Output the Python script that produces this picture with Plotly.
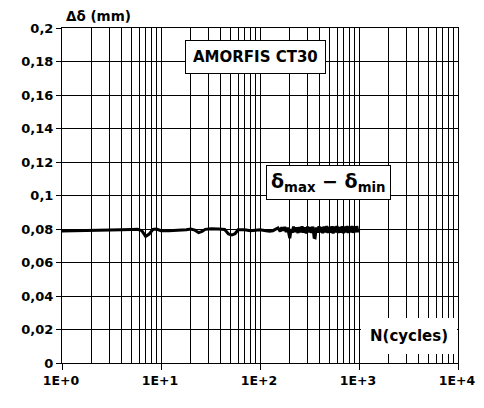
import plotly.graph_objects as go

# ---- data ----
cycles = [1, 1.5, 2, 3, 4, 5, 5.8, 6.4, 7, 7.6, 8.3, 9, 10, 12, 15, 18, 20, 22, 24,
          26, 28, 32, 38, 44, 48, 52, 56, 60, 70, 80, 90, 100, 115, 125, 135, 145,
          152, 160, 166, 172, 178, 184, 190, 196, 200, 206, 212, 218, 226, 234,
          242, 250, 258, 266, 275, 284, 293, 302, 312, 322, 332, 342, 352, 360,
          370, 382, 394, 406, 418, 430, 444, 458, 472, 486, 500, 516, 532, 548,
          565, 582, 600, 618, 636, 655, 675, 695, 715, 736, 758, 780, 803, 826,
          850, 875, 900, 925, 950, 975, 1000]
delta = [0.0788, 0.0789, 0.0790, 0.0793, 0.0795, 0.0797, 0.0798, 0.0790, 0.0756,
         0.0770, 0.0798, 0.0800, 0.0790, 0.0789, 0.0790, 0.0795, 0.0800, 0.0793,
         0.0778, 0.0785, 0.0798, 0.0801, 0.0800, 0.0797, 0.0770, 0.0764, 0.0772,
         0.0795, 0.0796, 0.0790, 0.0793, 0.0795, 0.0790, 0.0787, 0.0790, 0.0800,
         0.0806, 0.0786, 0.0810, 0.0790, 0.0812, 0.0782, 0.0808, 0.0770, 0.0745,
         0.0800, 0.0778, 0.0814, 0.0782, 0.0810, 0.0776, 0.0812, 0.0780, 0.0816,
         0.0778, 0.0810, 0.0774, 0.0815, 0.0780, 0.0812, 0.0776, 0.0814, 0.0750,
         0.0748, 0.0810, 0.0778, 0.0816, 0.0780, 0.0812, 0.0775, 0.0815, 0.0779,
         0.0818, 0.0776, 0.0812, 0.0778, 0.0816, 0.0774, 0.0814, 0.0780, 0.0818,
         0.0776, 0.0812, 0.0778, 0.0816, 0.0775, 0.0815, 0.0780, 0.0818, 0.0776,
         0.0814, 0.0779, 0.0818, 0.0777, 0.0815, 0.0780, 0.0817, 0.0782, 0.0800]

x_major = [1, 10, 100, 1000, 10000]
x_labels = ["1E+0", "1E+1", "1E+2", "1E+3", "1E+4"]
x_minor = [m * d for d in [1, 10, 100, 1000] for m in range(2, 10)]
y_ticks = [0, 0.02, 0.04, 0.06, 0.08, 0.1, 0.12, 0.14, 0.16, 0.18, 0.2]
y_labels = ["0", "0,02", "0,04", "0,06", "0,08", "0,1", "0,12", "0,14", "0,16", "0,18", "0,2"]

FONT = "DejaVu Sans"

fig = go.Figure()
fig.add_trace(go.Scatter(x=cycles, y=delta, mode="lines",
                         line=dict(color="black", width=3), showlegend=False))

# the page body has an 8px margin, so the figure is sized to fit inside it
fig.update_layout(
    width=468, height=392,
    margin=dict(l=54, r=18, t=20, b=37),
    paper_bgcolor="white", plot_bgcolor="white",
    font=dict(family=FONT, size=13, color="black"),
    xaxis=dict(type="log", range=[0, 4], automargin=False,
               tickvals=x_major, ticktext=x_labels,
               ticks="outside", ticklen=6, tickcolor="black",
               ticklabelshift=-1,
               tickfont=dict(family=FONT, size=12.5, color="black", weight="bold"),
               showgrid=True, gridcolor="black", gridwidth=1,
               minor=dict(tickvals=x_minor, showgrid=True, gridcolor="black",
                          gridwidth=1, ticks=""),
               showline=True, linecolor="black", linewidth=1, mirror=True,
               zeroline=False),
    yaxis=dict(range=[0, 0.2], automargin=False,
               tickvals=y_ticks, ticktext=y_labels,
               ticks="outside", ticklen=5, tickcolor="black",
               tickfont=dict(family=FONT, size=13, color="black", weight="bold"),
               showgrid=True, gridcolor="black", gridwidth=1,
               showline=True, linecolor="black", linewidth=1, mirror=True,
               zeroline=False),
)

common = dict(xref="paper", yref="paper", showarrow=False,
              xanchor="center", yanchor="middle")
fig.add_annotation(x=0.091, y=1.036, text="Δδ (mm)",
                   font=dict(family=FONT, size=13.5, color="black", weight="bold"),
                   **common)
fig.add_annotation(x=0.4886, y=0.913, text="AMORFIS CT30",
                   bgcolor="white", bordercolor="black", borderwidth=1, borderpad=7,
                   font=dict(family=FONT, size=15, color="black", weight="bold"),
                   **common)
fig.add_annotation(x=0.673, y=0.539, text="δ<sub>max</sub> − δ<sub>min</sub>",
                   bgcolor="white", bordercolor="black", borderwidth=1, borderpad=4,
                   font=dict(family=FONT, size=19, color="black", weight="bold"),
                   **common)
fig.add_annotation(x=0.876, y=0.081, text="N(cycles)",
                   bgcolor="white", borderwidth=0, borderpad=9,
                   font=dict(family=FONT, size=15, color="black", weight="bold"),
                   **common)

fig.write_html("out.html")
